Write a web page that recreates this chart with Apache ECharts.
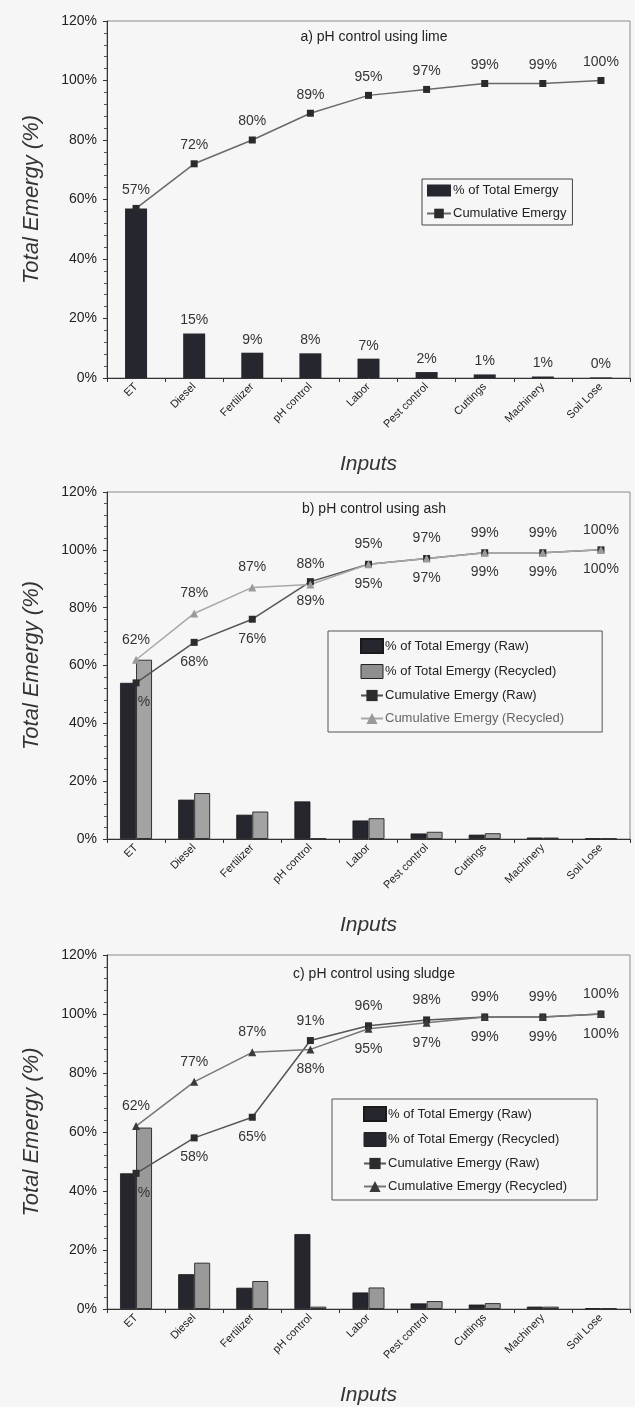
<!DOCTYPE html>
<html>
<head>
<meta charset="utf-8">
<script src="https://cdn.jsdelivr.net/npm/echarts@6/dist/echarts.min.js"></script>
<style>
html,body{margin:0;padding:0;background:#f6f6f6;}
.c{width:635px;position:absolute;left:0;}
</style>
</head>
<body>
<div id="ca" class="c" style="top:0;height:476px"></div>
<div id="cb" class="c" style="top:460px;height:476px"></div>
<div id="cc" class="c" style="top:930px;height:477px"></div>
<script>
// ---- data ----
const categories = ['ET', 'Diesel', 'Fertilizer', 'pH control', 'Labor', 'Pest control', 'Cuttings', 'Machinery', 'Soil Lose'];

const limeShare = [57, 15, 8.5, 8.3, 6.5, 2, 1.2, 0.5, 0.2];
const limeCumulative = [57, 72, 80, 89, 95, 97, 99, 99, 100];

const ashShareRaw = [54, 13.6, 8.4, 13, 6.4, 1.9, 1.5, 0.5, 0.2];
const ashShareRecycled = [62, 15.9, 9.5, 0.2, 7.2, 2.5, 2, 0.5, 0.2];
const ashCumRaw = [54, 68, 76, 89, 95, 97, 99, 99, 100];
const ashCumRecycled = [62, 78, 87, 88, 95, 97, 99, 99, 100];

const sludgeShareRaw = [46, 11.8, 7.2, 25.4, 5.6, 1.9, 1.5, 0.8, 0.3];
const sludgeShareRecycled = [61.5, 15.7, 9.5, 0.8, 7.3, 2.7, 2, 0.8, 0.3];
const sludgeCumRaw = [46, 58, 65, 91, 96, 98, 99, 99, 100];
const sludgeCumRecycled = [62, 77, 87, 88, 95, 97, 99, 99, 100];

const titles = ['a) pH control using lime', 'b) pH control using ash', 'c) pH control using sludge'];

// ---- styling helpers ----
const FONT = 'Liberation Sans, Arial, sans-serif';
const DARK = '#26262e';

function axes(gridTop, gridBottom) {
  return {
    grid: {left: 107, right: 5, top: gridTop, bottom: gridBottom, show: true, borderColor: '#8a8a8a', borderWidth: 1,
      containLabel: false, outerBoundsMode: 'none'},
    xAxis: {
      type: 'category', data: categories,
      axisLine: {lineStyle: {color: '#333', width: 1}},
      axisTick: {show: true, length: 4, lineStyle: {color: '#333'}},
      axisLabel: {rotate: 45, interval: 0, fontSize: 11, color: '#1a1a1a', fontFamily: FONT, margin: 7},
      name: 'Inputs', nameLocation: 'middle', nameGap: 76,
      nameTextStyle: {fontStyle: 'italic', fontSize: 21, color: '#333', fontFamily: FONT}
    },
    yAxis: {
      type: 'value', min: 0, max: 120, interval: 20,
      axisLine: {show: true, lineStyle: {color: '#333'}},
      axisTick: {show: true, length: 4, lineStyle: {color: '#333'}},
      minorTick: {show: true, splitNumber: 5, length: 3, lineStyle: {color: '#555'}},
      splitLine: {show: false},
      axisLabel: {formatter: '{value}%', fontSize: 14, color: '#222', fontFamily: FONT, margin: 10},
      name: 'Total Emergy (%)', nameLocation: 'middle', nameGap: 64,
      nameTextStyle: {fontStyle: 'italic', fontSize: 22, color: '#333', fontFamily: FONT}
    }
  };
}

function titleOf(text, top) {
  return {text: text, left: 369, top: top, textAlign: 'center',
    textStyle: {fontSize: 14, fontWeight: 'normal', color: '#222', fontFamily: FONT}};
}

const pct = v => Math.round(v) + '%';
const lblStyle = {fontSize: 14, color: '#333', fontFamily: FONT};

function lineData(values, positions, special) {
  return values.map((v, i) => {
    const item = {value: v, label: {position: positions[i]}};
    if (special && i === 0) item.label = {position: 'bottom', formatter: '%', offset: [8, 0]};
    return item;
  });
}

// ---- chart a ----
(function () {
  const ch = echarts.init(document.getElementById('ca'));
  const base = axes(21, 98);
  ch.setOption(Object.assign(base, {
    backgroundColor: 'transparent',
    title: titleOf(titles[0], 25),
    legend: {
      orient: 'vertical', left: 422, top: 179, itemGap: 10, itemWidth: 24, itemHeight: 12,
      padding: [5, 6, 5, 4], borderColor: '#444', borderWidth: 1, backgroundColor: 'transparent',
      textStyle: {fontSize: 13, color: '#222', fontFamily: FONT, padding: [0, 0, 0, -3]},
      data: [{name: '% of Total Emergy', icon: 'rect'}, {name: 'Cumulative Emergy'}]
    },
    series: [
      {name: '% of Total Emergy', type: 'bar', data: limeShare, barWidth: 22,
        itemStyle: {color: DARK},
        label: {show: true, position: 'top', distance: 6, ...lblStyle,
          formatter: p => p.dataIndex === 0 ? '' : pct(p.value)}},
      {name: 'Cumulative Emergy', type: 'line', data: limeCumulative,
        symbol: 'rect', symbolSize: 7, lineStyle: {color: '#6a6a6a', width: 1.5},
        itemStyle: {color: '#2a2a2a'},
        label: {show: true, position: 'top', distance: 8, ...lblStyle, formatter: p => pct(p.value)}}
    ]
  }));
})();

function twoSeriesChart(id, idx, gridTop, gridBottom, titleTop, rawBars, recBars, rawCum, recCum,
                        rawPos, recPos, legendBox, colors) {
  const ch = echarts.init(document.getElementById(id));
  const base = axes(gridTop, gridBottom);
  ch.setOption(Object.assign(base, {
    backgroundColor: 'transparent',
    title: titleOf(titles[idx], titleTop),
    legend: {
      orient: 'vertical', left: legendBox.left, top: legendBox.top, itemGap: 10, itemWidth: 22, itemHeight: 14,
      padding: legendBox.padding, borderColor: '#555', borderWidth: 1, backgroundColor: 'transparent',
      textStyle: {fontSize: 13, color: '#222', fontFamily: FONT, padding: [0, 0, 0, -3]},
      data: [
        {name: '% of Total Emergy (Raw)', icon: 'rect', itemStyle: {color: DARK}},
        {name: '% of Total Emergy (Recycled)', icon: 'rect', itemStyle: {color: colors.recLegend, borderColor: '#222', borderWidth: 1}},
        {name: 'Cumulative Emergy (Raw)'},
        {name: 'Cumulative Emergy (Recycled)', textStyle: {color: colors.recText}}
      ]
    },
    series: [
      {name: '% of Total Emergy (Raw)', type: 'bar', data: rawBars, barWidth: 16, barGap: '0%',
        itemStyle: {color: DARK, borderColor: '#1a1a1a', borderWidth: 0.8}},
      {name: '% of Total Emergy (Recycled)', type: 'bar', data: recBars, barWidth: 16, barGap: '0%',
        itemStyle: {color: colors.recBar, borderColor: '#333', borderWidth: 1}},
      {name: 'Cumulative Emergy (Raw)', type: 'line', data: lineData(rawCum, rawPos, true),
        symbol: 'rect', symbolSize: 7, lineStyle: {color: '#555', width: 1.5},
        itemStyle: {color: '#2c2c2c'},
        label: {show: true, distance: 9, ...lblStyle, formatter: p => pct(p.value)}},
      {name: 'Cumulative Emergy (Recycled)', type: 'line', data: lineData(recCum, recPos, false),
        symbol: 'triangle', symbolSize: 8, lineStyle: {color: colors.recLine, width: 1.5},
        itemStyle: {color: colors.recMark},
        label: {show: true, distance: 9, ...lblStyle, formatter: p => pct(p.value)}}
    ]
  }));
}

const T = 'top', B = 'bottom';
twoSeriesChart('cb', 1, 32, 97, 37, ashShareRaw, ashShareRecycled, ashCumRaw, ashCumRecycled,
  [B, B, B, B, B, B, B, B, B], [T, T, T, T, T, T, T, T, T],
  {left: 328, top: 171, padding: [7, 38, 7, 32]},
  {recBar: '#a3a3a3', recLegend: '#8f8f8f', recLine: '#a8a8a8', recMark: '#9a9a9a', recText: '#666'});

twoSeriesChart('cc', 2, 25, 98, 32, sludgeShareRaw, sludgeShareRecycled, sludgeCumRaw, sludgeCumRecycled,
  [B, B, B, T, T, T, T, T, T], [T, T, T, B, B, B, B, B, B],
  {left: 332, top: 169, padding: [7, 30, 7, 31]},
  {recBar: '#999999', recLegend: DARK, recLine: '#777', recMark: '#3a3a3a', recText: '#222'});
</script>
</body>
</html>
